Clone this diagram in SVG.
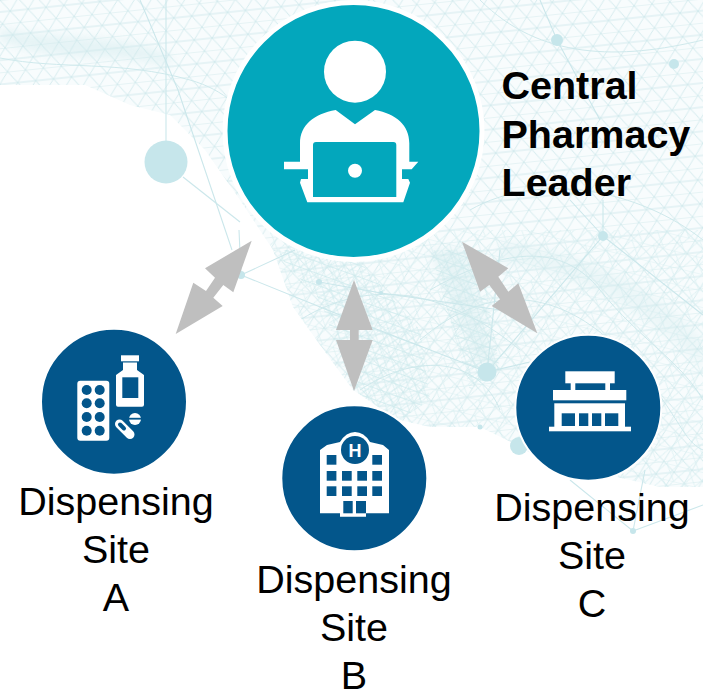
<svg xmlns="http://www.w3.org/2000/svg" width="703" height="692" viewBox="0 0 703 692">
<style>
.lbl{font-family:"Liberation Sans",Arial,sans-serif;font-size:39.5px;fill:#000;text-anchor:middle}
.lead{font-family:"Liberation Sans",Arial,sans-serif;font-size:39.5px;font-weight:700;fill:#000}
.arrow{fill:#bfbfbf}
.site{fill:#03568b;stroke:#fff;stroke-width:2}
.ic{fill:#fff}
.hole{fill:#03568b}
.net{stroke:#cbe7eb;stroke-width:1.1;fill:none}
.nd{fill:#c6e6eb}
.wire{stroke:#cfe9ec;stroke-width:1;fill:none}
</style>
<defs>
<pattern id="meshA" width="36" height="24" patternUnits="userSpaceOnUse" patternTransform="rotate(-6)">
<path d="M0 0H36M0 12H36M0 24L18 0L36 24M18 24L36 0M0 0L18 24" stroke="#d0e9ec" stroke-width=".9" fill="none"/>
</pattern>
<pattern id="meshB" width="22" height="16" patternUnits="userSpaceOnUse" patternTransform="rotate(14)">
<path d="M0 0H22M0 16L11 0L22 16M11 16L22 0" stroke="#d8eff1" stroke-width=".8" fill="none"/>
</pattern>
<pattern id="meshC" width="9" height="11" patternUnits="userSpaceOnUse" patternTransform="rotate(20)">
<path d="M0 0L9 11M9 0L0 11M0 5.500H9" stroke="#cdeaed" stroke-width=".7" fill="none"/>
</pattern>
<filter id="soft" x="-20%" y="-20%" width="140%" height="140%"><feGaussianBlur stdDeviation="5"/></filter>
<clipPath id="sil">
<path d="M0 0H703V487L660 487L617 477L560 470L513 443L480 427L430 427L400 420L375 405L353 390L320 345L293 307L273 250L240 200L205 150L170 115L130 105L85 85H0Z"/>
</clipPath>
</defs>
<rect width="703" height="692" fill="#fff"/>
<g id="background">
<g clip-path="url(#sil)">
<rect width="703" height="692" fill="#f8fcfd"/>
<rect width="703" height="692" fill="url(#meshA)"/>
<rect x="270" y="230" width="433" height="260" fill="url(#meshB)"/>
<path d="M273 250L320 300L353 390L400 420L430 400L420 330L350 250Z" fill="url(#meshC)"/>
<path d="M430 250L480 250L500 370L470 390Z" fill="url(#meshC)"/>
<path d="M0 28C60 42 120 30 175 58L165 66C110 50 60 66 0 40Z" fill="#cfe9ec" opacity=".45" filter="url(#soft)"/>
<path d="M430 250L465 250L495 365L478 365Z" fill="#cfe9ec" opacity=".4" filter="url(#soft)"/>
<path d="M500 240C560 250 640 270 703 340L703 370C640 300 560 270 500 262Z" fill="#cfe9ec" opacity=".3" filter="url(#soft)"/>
<g class="wire">
<path d="M0 58C60 70 120 60 190 80S270 160 300 240"/>
<path d="M430 290C500 250 560 240 600 290S680 360 703 400"/>
<path d="M420 340C490 280 560 290 620 350S680 440 703 450"/>
<path d="M300 320C380 270 460 300 520 350"/>
<path d="M360 390C420 350 480 360 500 410"/>
<path d="M480 0C540 60 620 60 703 40"/>
<path d="M470 210C540 170 640 190 703 240"/>
</g>
</g>
<g class="net">
<path d="M166 0V162"/>
<path d="M140 0L178 90L232 250"/>
<path d="M183 177L240 222"/>
<path d="M241 275L239 230M241 275L295 250M241 275L340 315L487 372"/>
<path d="M319 282L381 293L500 310"/>
<path d="M487 372L603 236M487 372L500 250M487 372L530 362"/>
<path d="M603 236V200M603 236L570 200M603 236L703 315"/>
<path d="M540 0L557 40L600 120"/>
<path d="M633 531L703 505M633 531L570 480M633 531L645 470"/>
</g>
<circle class="nd" cx="166" cy="162" r="21.500"/>
<circle class="nd" cx="557" cy="40" r="6"/>
<circle class="nd" cx="674" cy="64" r="5"/>
<circle class="nd" cx="603" cy="236" r="5"/>
<circle class="nd" cx="487" cy="372" r="9.500"/>
<circle class="nd" cx="519" cy="446" r="9"/>
<circle class="nd" cx="633" cy="531" r="3"/>
<circle class="nd" cx="241" cy="275" r="4"/>
<circle class="nd" cx="319" cy="282" r="3"/>
<circle class="nd" cx="381" cy="293" r="2"/>
<circle class="nd" cx="480" cy="427" r="2.500"/>
</g>
<g id="connectors">
<polygon class="arrow" points="251.700,240.700 233.300,292.300 223.300,285 213.300,297.700 222.700,306 175.700,334 193.300,282.700 206,291 215,277.700 205,268.300"/>
<polygon class="arrow" points="354,280 372.700,330 358.700,330 358.700,340 372.700,340 354,391 336,340 350,340 350,330 336,330"/>
<polygon class="arrow" points="462,241.700 508.300,268.300 498.300,276.700 508.300,291.700 518.300,283.300 537.300,333.300 491.700,306 500,299.300 489.300,285 480,291.700"/>
</g>
<g id="central-pharmacy-leader">
<circle cx="353.500" cy="131" r="128.500" fill="#03a7bc" stroke="#fff" stroke-width="5"/>
<circle class="ic" cx="355" cy="71.700" r="31"/>
<path class="ic" d="M335.700 110L355 124.300L375 110C396 114 409.300 125 409.300 143.300V161.700H418.300L411.700 169.300H402V179H408.300L410 182.700L403.300 202.300H307.300L300 182.700L301 179H308V169.300H284V161.700H300V143.300C300 125 314 114 335.700 110Z"/>
<path d="M316 142H393.300Q396.300 142 396.300 145V197H313V145Q313 142 316 142Z" fill="#03a7bc"/>
<circle class="ic" cx="355" cy="170.700" r="7"/>
<text class="lead"><tspan x="501.500" y="99">Central</tspan><tspan x="501.500" y="147.500">Pharmacy</tspan><tspan x="501.500" y="195.500">Leader</tspan></text>
</g>
<g id="site-a">
<circle class="site" cx="114" cy="401.700" r="73"/>
<rect class="ic" x="77.300" y="380.700" width="32" height="60" rx="3"/>
<circle class="hole" cx="86.700" cy="390" r="5"/><circle class="hole" cx="99.700" cy="390" r="5"/>
<circle class="hole" cx="86.700" cy="403.300" r="5"/><circle class="hole" cx="99.700" cy="403.300" r="5"/>
<circle class="hole" cx="86.700" cy="417" r="5"/><circle class="hole" cx="99.700" cy="417" r="5"/>
<circle class="hole" cx="86.700" cy="430.700" r="5"/><circle class="hole" cx="99.700" cy="430.700" r="5"/>
<rect class="ic" x="121" y="355.300" width="18" height="6"/>
<path class="ic" d="M123 362.500H137V370L144 375V404.700Q144 406.700 142 406.700H118Q116 406.700 116 404.700V375L123 370Z"/>
<rect class="hole" x="122.300" y="377.300" width="16" height="20.700"/>
<circle class="ic" cx="135" cy="419" r="6"/>
<rect class="hole" x="128.500" y="417.800" width="13" height="1.800"/>
<path d="M119.500 424L130 434.500" stroke="#fff" stroke-width="9" stroke-linecap="round"/>
<path d="M120 424.500L124 428.500" stroke="#03568b" stroke-width="4" stroke-linecap="round"/>
<text class="lbl"><tspan x="116" y="515">Dispensing</tspan><tspan x="116" y="563">Site</tspan><tspan x="116" y="611">A</tspan></text>
</g>
<g id="site-b">
<circle class="site" cx="354.300" cy="478.300" r="73"/>
<path class="ic" d="M320 450L327 445L340 442Q346 432 355 432Q364 432 370 442L383 445L389 450V513.300H366V516.700H340V513.300H320Z"/>
<circle class="hole" cx="355" cy="450" r="14"/>
<text x="355" y="456.500" font-family="'Liberation Sans',Arial,sans-serif" font-size="18" font-weight="700" fill="#fff" text-anchor="middle">H</text>
<g class="hole">
<rect x="326.700" y="455" width="9.700" height="9.700"/><rect x="372.300" y="455" width="9.700" height="9.700"/>
<rect x="326.700" y="471" width="9.700" height="9.700"/><rect x="342" y="471" width="9.700" height="9.700"/><rect x="357.300" y="471" width="9.700" height="9.700"/><rect x="372.300" y="471" width="9.700" height="9.700"/>
<rect x="326.700" y="486.300" width="9.700" height="9.700"/><rect x="342" y="486.300" width="9.700" height="9.700"/><rect x="357.300" y="486.300" width="9.700" height="9.700"/><rect x="372.300" y="486.300" width="9.700" height="9.700"/>
<rect x="343.300" y="501" width="9.400" height="12.300"/><rect x="356" y="501" width="10" height="12.300"/>
</g>
<text class="lbl"><tspan x="354" y="593">Dispensing</tspan><tspan x="354" y="641">Site</tspan><tspan x="354" y="689">B</tspan></text>
</g>
<g id="site-c">
<circle class="site" cx="588.300" cy="407.700" r="73"/>
<rect class="ic" x="565.300" y="371.300" width="49.400" height="12"/>
<rect class="ic" x="570.700" y="383" width="4.600" height="8"/><rect class="ic" x="605.300" y="383" width="4.700" height="8"/>
<rect class="ic" x="553" y="390" width="73.300" height="10.300"/>
<rect class="ic" x="554.300" y="403.300" width="70.700" height="24"/>
<rect class="ic" x="549" y="426.700" width="82" height="4.600"/>
<g class="hole"><rect x="561.700" y="413.300" width="13.300" height="12.700"/><rect x="579" y="413.300" width="9.300" height="12.700"/><rect x="592" y="413.300" width="9.300" height="12.700"/><rect x="605" y="413.300" width="13.300" height="12.700"/></g>
<text class="lbl"><tspan x="592" y="521">Dispensing</tspan><tspan x="592" y="569">Site</tspan><tspan x="592" y="617">C</tspan></text>
</g>
</svg>
